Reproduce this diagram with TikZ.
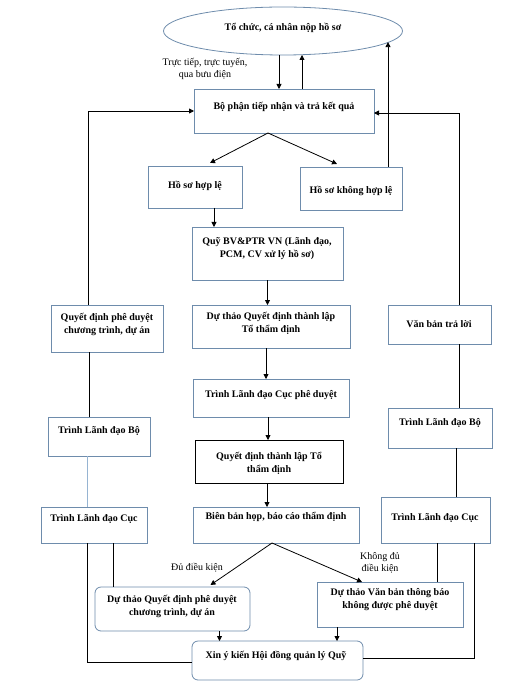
\documentclass[tikz,border=0pt]{standalone}
\usepackage{fontspec}
\setmainfont{Liberation Serif}
\usetikzlibrary{arrows.meta,shapes.geometric}
\definecolor{bcol}{RGB}{110,140,172}
\definecolor{lblue}{RGB}{150,180,210}
\begin{document}
\begin{tikzpicture}[x=1pt,y=-1pt,
 box/.style={draw=bcol,line width=0.8pt,fill=white,inner sep=0pt,outer sep=0pt,anchor=north west},
 rbox/.style={box,rounded corners=6pt},
 kbox/.style={box,draw=black},
 txt/.style={font=\fontsize{10}{13}\selectfont\bfseries,align=center,inner sep=0pt},
 lab/.style={font=\fontsize{10}{11.5}\selectfont,align=center,inner sep=0pt},
 arr/.style={draw=black,line width=0.8pt,-{Triangle[length=5pt,width=5pt]}},
 ln/.style={draw=black,line width=0.8pt}]
\useasboundingbox (0,0) rectangle (519,692);

% ellipse
\node[ellipse,draw=bcol,line width=0.8pt,fill=white,inner sep=0pt,outer sep=0pt,
      minimum width=239pt,minimum height=48pt] (ell) at (283,31) {};
\node[txt] (tell) at (283,28) {Tổ chức, cá nhân nộp hồ sơ};

% boxes
\node[box,minimum width=180pt,minimum height=44pt] (bp) at (194,89) {};
\node[box,minimum width=94pt,minimum height=42pt] (hl) at (148,166) {};
\node[box,minimum width=102pt,minimum height=43pt] (khl) at (300,167) {};
\node[box,minimum width=151pt,minimum height=53pt] (quy) at (192,227) {};
\node[box,minimum width=158pt,minimum height=43pt] (dt1) at (192,305) {};
\node[box,minimum width=156pt,minimum height=38pt] (tr1) at (193,379) {};
\node[kbox,minimum width=148pt,minimum height=43pt] (qd1) at (195,440) {};
\node[box,minimum width=166pt,minimum height=36pt] (bb) at (193,507) {};
\node[rbox,minimum width=155pt,minimum height=44pt] (dq) at (95,587) {};
\node[box,minimum width=146pt,minimum height=45pt] (dv) at (317,582) {};
\node[rbox,minimum width=171pt,minimum height=39pt] (xin) at (192,641) {};

\node[box,minimum width=112pt,minimum height=47pt] (lq) at (51,305) {};
\node[box,minimum width=102pt,minimum height=39pt] (lb) at (48,417) {};
\node[box,minimum width=106pt,minimum height=36pt] (lc) at (41,507) {};

\node[box,minimum width=103pt,minimum height=39pt] (rv) at (388,305) {};
\node[box,minimum width=104pt,minimum height=40pt] (rb) at (388,408) {};
\node[box,minimum width=109pt,minimum height=46pt] (rc) at (381,497) {};

% texts
\node[txt] (tbp) at (284,107) {Bộ phận tiếp nhận và trả kết quả};
\node[txt] (thl) at (195,186) {Hồ sơ hợp lệ};
\node[txt] (tkhl) at (351,191) {Hồ sơ không hợp lệ};
\node[txt] (tquy) at (267,249) {Quỹ BV\&PTR VN (Lãnh đạo,\\PCM, CV xử lý hồ sơ)};
\node[txt] (tdt1) at (271,323) {Dự thảo Quyết định thành lập\\Tổ thẩm định};
\node[txt] (ttr1) at (271,395) {Trình Lãnh đạo Cục phê duyệt};
\node[txt] (tqd1) at (269,463) {Quyết định thành lập Tổ\\thẩm định};
\node[txt] (tbb) at (276,517) {Biên bản họp, báo cáo thẩm định};
\node[txt] (tdq) at (172,606) {Dự thảo Quyết định phê duyệt\\chương trình, dự án};
\node[txt] (tdv) at (390,600) {Dự thảo Văn bản thông báo\\không được phê duyệt};
\node[txt] (txin) at (276,656) {Xin ý kiến Hội đồng quản lý Quỹ};
\node[txt] (tlq) at (107,324) {Quyết định phê duyệt\\chương trình, dự án};
\node[txt] (tlb) at (99,431) {Trình Lãnh đạo Bộ};
\node[txt] (tlc) at (94,519) {Trình Lãnh đạo Cục};
\node[txt] (trv) at (439,324) {Văn bản trả lời};
\node[txt] (trb) at (440,423) {Trình Lãnh đạo Bộ};
\node[txt] (trc) at (435,518) {Trình Lãnh đạo Cục};

% labels
\node[lab] (l1) at (205,69) {Trực tiếp, trực tuyến,\\qua bưu điện};
\node[lab] (l2) at (197,568) {Đủ điều kiện};
\node[lab] (l3) at (380,563) {Không đủ\\điều kiện};

% connectors
\draw[arr] ([xshift=-4pt]ell.south) -- ([xshift=-4pt]ell.south |- bp.north);
\draw[arr] ([xshift=18pt]bp.north) -- ([xshift=18pt]bp.north |- ell.south);
\draw[arr] ([xshift=37pt]khl.north) -- ([xshift=37pt]khl.north |- ell.-6.25);
\draw[arr] ([xshift=-19pt]lq.north) |- (bp.west);
\draw[arr] ([xshift=20pt]rv.north) |- ([yshift=-2pt]bp.east);
\coordinate (apex1) at ([xshift=-16pt]bp.south);
\draw[arr] (apex1) -- ([xshift=15pt,yshift=3pt]hl.north);
\draw[arr] (apex1) -- ([xshift=-14pt,yshift=3pt]khl.north);
\draw[arr] ([xshift=19pt]hl.south) -- ([xshift=19pt]hl.south |- quy.north);
\draw[arr] (quy.south) -- (quy.south |- dt1.north);
\draw[arr] ([xshift=-5pt]dt1.south) -- ([xshift=-5pt]dt1.south |- tr1.north);
\draw[arr] ([xshift=-3pt]tr1.south) -- ([xshift=-3pt]tr1.south |- qd1.north);
\draw[arr] ([xshift=-2pt]qd1.south) -- ([xshift=-2pt]qd1.south |- bb.north);
\coordinate (apex2) at ([xshift=-4pt]bb.south);
\draw[arr] (apex2) -- ([xshift=38pt,yshift=2pt]dq.north);
\draw[arr] (apex2) -- ([xshift=-28pt]dv.north);
\draw[arr] ([xshift=47pt]dq.south) -- ([xshift=47pt]dq.south |- xin.north);
\draw[arr] ([xshift=-53pt]dv.south) -- ([xshift=-53pt]dv.south |- xin.north);

\draw[ln] ([xshift=-18pt]lq.south) -- ([xshift=-18pt]lq.south |- lb.north);
\draw[ln,draw=lblue] ([xshift=-12pt]lb.south) -- ([xshift=-12pt]lb.south |- lc.north);
\draw[ln] ([xshift=-7pt]lc.south) |- ([yshift=-1.5pt]xin.west);
\draw[ln] ([xshift=19pt]lc.south) -- ([xshift=19pt]lc.south |- dq.north);

\draw[ln] ([xshift=19.5pt]rv.south) -- ([xshift=19.5pt]rv.south |- rb.north);
\draw[ln] ([xshift=16pt]rb.south) -- ([xshift=16pt]rb.south |- rc.north);
\draw[ln] ([xshift=1.5pt]rc.south) -- ([xshift=1.5pt]rc.south |- dv.north);
\draw[ln] ([xshift=38.5pt]rc.south) |- ([yshift=2pt]xin.east);
\end{tikzpicture}
\end{document}
